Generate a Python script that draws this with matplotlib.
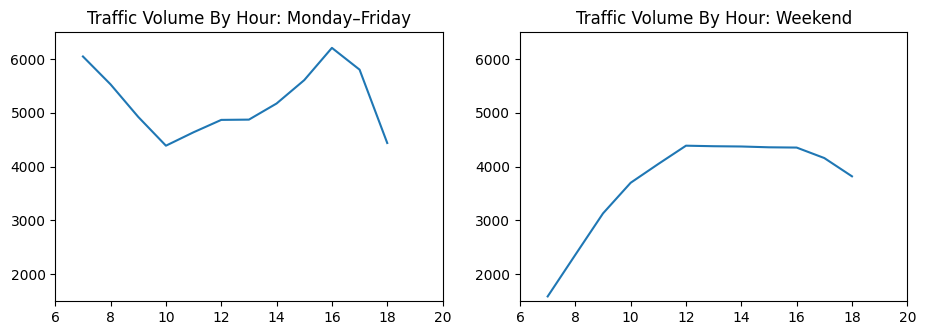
import matplotlib
matplotlib.use("Agg")
import matplotlib.pyplot as plt

# hourly traffic volume
hours = [7, 8, 9, 10, 11, 12, 13, 14, 15, 16, 17, 18]
weekday_volume = [6050, 5530, 4925, 4390, 4640, 4870, 4875, 5175, 5610, 6210, 5805, 4440]
weekend_volume = [1585, 2360, 3130, 3700, 4050, 4390, 4380, 4375, 4360, 4355, 4160, 3820]

titles = ["Traffic Volume By Hour: Monday\u2013Friday", "Traffic Volume By Hour: Weekend"]

fig, axes = plt.subplots(1, 2, figsize=(9.26, 3.35), dpi=100)
fig.subplots_adjust(left=0.0597, right=0.9798, bottom=0.1015, top=0.9036, wspace=0.2)

for ax, volume, title in zip(axes, [weekday_volume, weekend_volume], titles):
    ax.plot(hours, volume)
    ax.set_title(title)
    ax.set_xlim(6, 20)
    ax.set_ylim(1500, 6500)
    ax.set_xticks([6, 8, 10, 12, 14, 16, 18, 20])
    ax.set_yticks([2000, 3000, 4000, 5000, 6000])

plt.savefig("out.png")
